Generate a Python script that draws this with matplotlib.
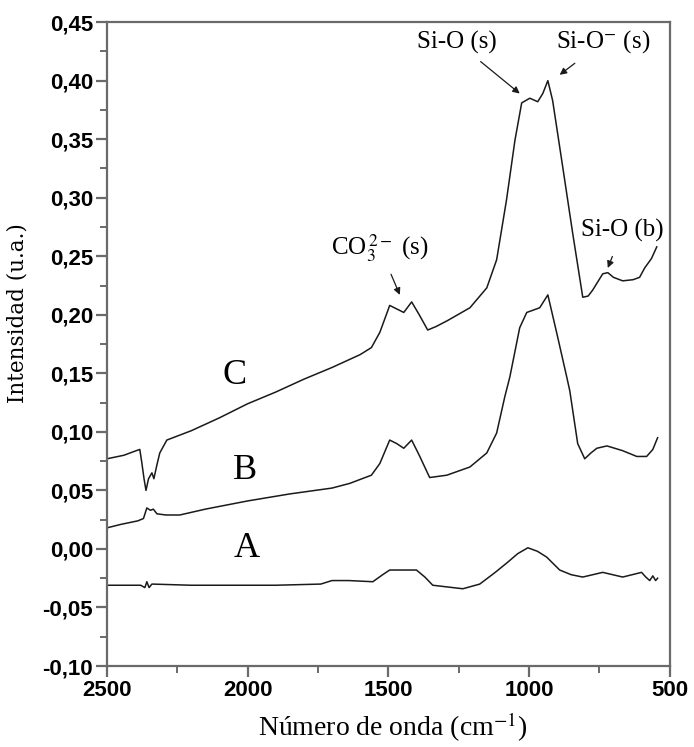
import numpy as np
import matplotlib
matplotlib.use('Agg')
import matplotlib.pyplot as plt
from matplotlib.ticker import MultipleLocator, FuncFormatter

plt.rcParams['mathtext.fontset'] = 'stix'

# Spectrum C (upper)
wn_c = [2500, 2440, 2395, 2383, 2376, 2368, 2361, 2352, 2340, 2333, 2322, 2312, 2287,
        2200, 2100, 2000, 1900, 1800, 1700, 1600, 1560, 1530, 1495, 1470, 1445, 1417,
        1390, 1360, 1330, 1290, 1210, 1150, 1115, 1080, 1050, 1026, 997, 969, 951, 933,
        916, 880, 845, 809, 790, 774, 738, 720, 700, 667, 630, 607, 589, 565, 546]
int_c = [0.077, 0.080, 0.084, 0.085, 0.074, 0.060, 0.050, 0.060, 0.065, 0.060, 0.072, 0.082, 0.093,
         0.101, 0.112, 0.124, 0.134, 0.145, 0.155, 0.166, 0.172, 0.185, 0.208, 0.205, 0.202, 0.211,
         0.200, 0.187, 0.190, 0.195, 0.206, 0.223, 0.247, 0.298, 0.349, 0.381, 0.385, 0.382, 0.389, 0.400,
         0.383, 0.326, 0.270, 0.215, 0.216, 0.221, 0.235, 0.236, 0.232, 0.229, 0.230, 0.232, 0.240, 0.248, 0.258]

# Spectrum B (middle)
wn_b = [2500, 2450, 2390, 2370, 2358, 2345, 2335, 2322, 2290, 2241, 2150, 2000, 1850, 1700,
        1637, 1560, 1530, 1495, 1470, 1445, 1417, 1390, 1353, 1292, 1210, 1150, 1115, 1086,
        1068, 1033, 1008, 985, 962, 933, 901, 866, 855, 827, 802, 780, 759, 723, 668, 617,
        582, 560, 543]
int_b = [0.018, 0.021, 0.024, 0.026, 0.035, 0.033, 0.034, 0.030, 0.029, 0.029, 0.034, 0.041, 0.047, 0.052,
         0.056, 0.063, 0.073, 0.093, 0.090, 0.086, 0.093, 0.080, 0.061, 0.063, 0.070, 0.082, 0.099, 0.130,
         0.147, 0.189, 0.202, 0.204, 0.206, 0.217, 0.184, 0.147, 0.135, 0.090, 0.077, 0.082, 0.086, 0.088,
         0.084, 0.079, 0.079, 0.085, 0.095]

# Spectrum A (lower)
wn_a = [2500, 2380, 2365, 2358, 2350, 2340, 2200, 1900, 1740, 1700, 1640, 1555, 1520, 1495,
        1400, 1370, 1342, 1235, 1175, 1120, 1079, 1040, 1004, 970, 937, 891, 850, 809, 738,
        667, 600, 585, 571, 560, 550, 543]
int_a = [-0.031, -0.031, -0.033, -0.028, -0.033, -0.030, -0.031, -0.031, -0.030, -0.027, -0.027, -0.028, -0.022, -0.018,
         -0.018, -0.024, -0.031, -0.034, -0.030, -0.020, -0.012, -0.004, 0.001, -0.002, -0.007, -0.018, -0.022, -0.024, -0.020,
         -0.024, -0.020, -0.024, -0.027, -0.023, -0.027, -0.025]

fig = plt.figure(figsize=(6.94, 7.47), dpi=100)
ax = fig.add_axes([0.154, 0.1084, 0.811, 0.862])

for wn, y in [(wn_a, int_a), (wn_b, int_b), (wn_c, int_c)]:
    ax.plot(wn, y, color='#1a1a1a', lw=1.1)

ax.set_xlim(2500, 500)
ax.set_ylim(-0.10, 0.45)

ax.xaxis.set_major_locator(MultipleLocator(500))
ax.xaxis.set_minor_locator(MultipleLocator(250))
ax.yaxis.set_major_locator(MultipleLocator(0.05))
ax.yaxis.set_minor_locator(MultipleLocator(0.025))
ax.yaxis.set_major_formatter(FuncFormatter(lambda v, p: f'{v:.2f}'.replace('.', ',').replace('-0,00', '0,00')))
ax.xaxis.set_major_formatter(FuncFormatter(lambda v, p: f'{v:.0f}'))

spine_col = '#6a6a6a'
for s in ax.spines.values():
    s.set_color(spine_col)
    s.set_linewidth(1.6)
ax.tick_params(which='major', direction='out', length=8, width=1.6, color=spine_col,
               labelsize=16, pad=2)
ax.tick_params(which='minor', direction='out', length=5, width=1.4, color=spine_col)
for lab in ax.get_xticklabels() + ax.get_yticklabels():
    lab.set_fontweight('bold')
    lab.set_family('Liberation Sans')

serif = 'Liberation Serif'
# curve labels
ax.text(2045, 0.148, 'C', family=serif, fontsize=26, ha='center', va='center')
ax.text(2010, 0.067, 'B', family=serif, fontsize=26, ha='center', va='center')
ax.text(2003, 0.000, 'A', family=serif, fontsize=26, ha='center', va='center')

# band annotations
arr = dict(arrowstyle='-|>', color='#1a1a1a', lw=0.9, mutation_scale=10)
ax.annotate('Si-O (s)', xy=(1033, 0.389), xytext=(1257, 0.433), family=serif, fontsize=18,
            ha='center', va='center', arrowprops=dict(arr, shrinkA=6, shrinkB=0))
ax.annotate('Si-O$^{-}$ (s)', xy=(891, 0.405), xytext=(738, 0.433), family=serif, fontsize=18,
            ha='center', va='center', arrowprops=dict(arr, shrinkA=6, shrinkB=0))
ax.annotate('CO$_3^{\\,2-}$ (s)', xy=(1459, 0.217), xytext=(1530, 0.257), family=serif, fontsize=18,
            ha='center', va='center', arrowprops=dict(arr, shrinkA=6, shrinkB=0))
ax.annotate('Si-O (b)', xy=(720, 0.240), xytext=(667, 0.272), family=serif, fontsize=18,
            ha='center', va='center', arrowprops=dict(arr, shrinkA=9, shrinkB=0))

fig.text(18 / 694, 1 - 313 / 747, 'Intensidad (u.a.)', family='DejaVu Serif', fontsize=15.5,
         rotation=90, ha='center', va='center')
fig.text(393 / 694, 1 - 727 / 747, 'Número de onda (cm$^{-1}$)', family=serif, fontsize=20,
         ha='center', va='center')

fig.savefig('out.png', dpi=100)
